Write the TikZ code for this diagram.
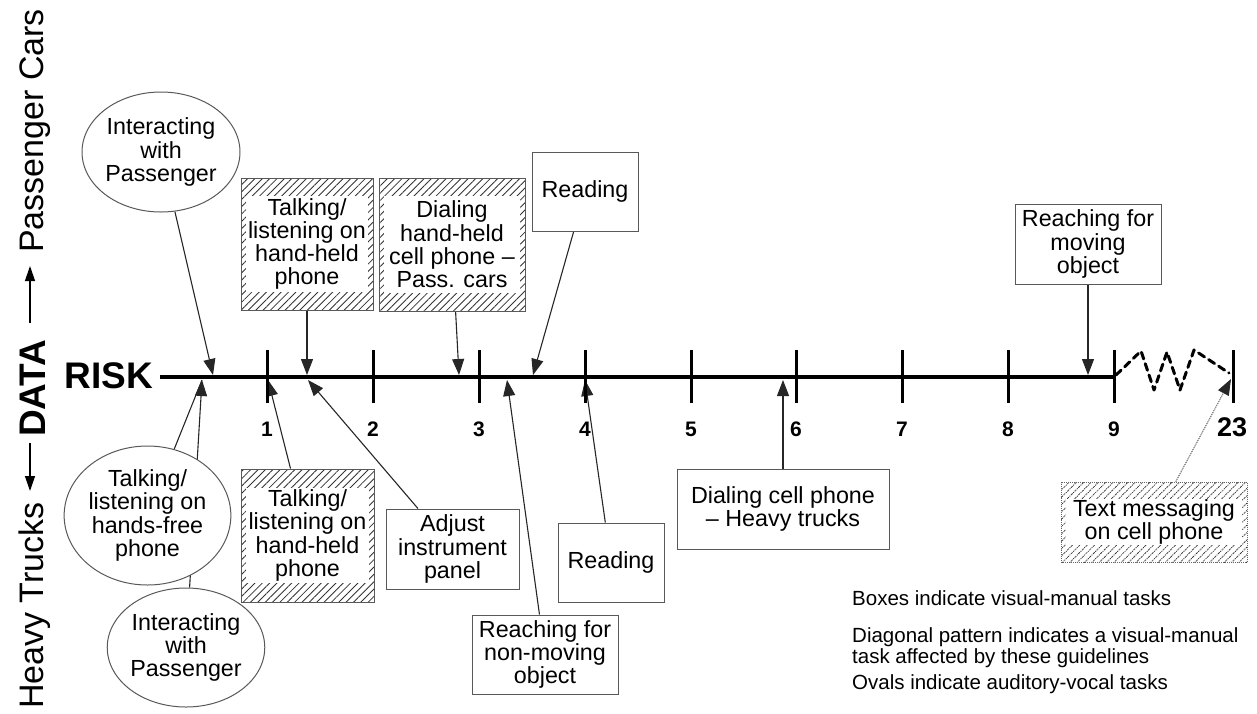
\documentclass[tikz,border=0pt]{standalone}
\usepackage{fontspec}
\setmainfont{Liberation Sans}
\usetikzlibrary{arrows.meta,patterns.meta,shapes.geometric}
\pgfdeclarelayer{bg}
\pgfsetlayers{bg,main}
\newcommand{\nodefont}{\fontsize{23.3}{23.3}\selectfont}
\newcommand{\legfont}{\fontsize{20.5}{21.5}\selectfont}
\begin{document}
\begin{tikzpicture}[x=1pt,y=-1pt,
  box/.style={draw=black!65, line width=1pt, fill=white, align=center, inner sep=0pt, font=\nodefont},
  hatched/.style={box, pattern={Lines[angle=45,distance=5.2pt,line width=0.85pt]}, pattern color=black!80,
    path picture={\fill[white] ([shift={(5pt,-#1)}]path picture bounding box.north west) rectangle ([shift={(-5pt,#1)}]path picture bounding box.south east);}},
  hatched/.default=18pt,
  oval/.style={ellipse, draw=black!65, line width=1pt, fill=white, align=center, inner sep=0pt, font=\nodefont},
  conn/.style={draw=black!85, line width=1.1pt, -{Triangle[length=16pt,width=12pt]}},
  plainconn/.style={draw=black!85, line width=1.1pt},
  axis/.style={line width=4pt},
  tickmark/.style={line width=3pt},
  num/.style={anchor=base, inner sep=0pt, font=\fontsize{21}{21}\bfseries\selectfont},
  vlab/.style={rotate=90, anchor=base west, inner sep=0pt, font=\fontsize{34}{34}\selectfont},
  varr/.style={line width=1.3pt, -{Triangle[length=15pt,width=10pt]}},
  legend/.style={anchor=base west, inner sep=0pt, font=\legfont},
  zig/.style={line width=3pt, dash pattern=on 7pt off 5pt, line cap=round, line join=round}
]
\useasboundingbox (0,0) rectangle (1257,713);

% side label
\node[vlab] (pc) at (43,253) {Passenger Cars};
\node[vlab, font=\fontsize{37}{37}\bfseries\selectfont] (data) at (45,437) {DATA};
\node[vlab] (ht) at (43,709) {Heavy Trucks};
\coordinate (upA) at (30,323);
\coordinate (upB) at (30,266);
\coordinate (dnA) at (30,443);
\coordinate (dnB) at (30,491);
\draw[varr] (upA) -- (upB);
\draw[varr] (dnA) -- (dnB);

% axis
\node[anchor=base east, inner sep=0pt, font=\fontsize{37}{37}\bfseries\selectfont] (risk) at (153,388) {RISK};
\coordinate (axL) at (160,377);
\coordinate (ax9) at (1114,377);
\draw[axis] (axL) -- (ax9);
\foreach \i/\x in {1/267,2/373,3/479,4/585,5/691,6/796,7/902,8/1008,9/1114}{
  \draw[tickmark] (\x,350) -- (\x,403);
  \node[num] (n\i) at (\x,436) {\i};
}
\draw[tickmark] (1233,350) -- (1233,403);
\node[num, font=\fontsize{27}{27}\bfseries\selectfont] (n23) at (1232,436) {23};
\draw[zig] (1116,375) -- (1141,351) -- (1154,390) -- (1167,352) -- (1180,390) -- (1194,350) -- (1229,373);

% tips
\coordinate (tPA) at (213,375);
\coordinate (tTA) at (307,375);
\coordinate (tDA) at (459,375);
\coordinate (tRA) at (533,375);
\coordinate (tMA) at (1088,375);
\coordinate (tHB) at (202,380);
\coordinate (tTB) at (268,380);
\coordinate (tAB) at (308,380);
\coordinate (tNB) at (507,380);
\coordinate (tRB) at (585,380);
\coordinate (tDB) at (783,380);
\coordinate (tXB) at (1231,379);

% top nodes
\node[oval, minimum width=158pt, minimum height=120pt] (ovPA) at (161,152) {Interacting\\with\\Passenger};
\node[hatched, minimum width=132pt, minimum height=132pt] (hbTA) at (307,244) {Talking/\\listening on\\hand-held\\phone};
\node[hatched, minimum width=146pt, minimum height=133pt] (hbDA) at (452,244.5) {Dialing\\hand-held\\cell phone \textendash\\Pass. cars};
\node[box, minimum width=106pt, minimum height=79pt] (bxRA) at (585,191.5) {Reading};
\node[box, minimum width=146pt, minimum height=80pt] (bxMA) at (1088,244) {Reaching for\\moving\\object};

% bottom nodes
\node[oval, minimum width=156pt, minimum height=119pt] (ovPB) at (186,647.5) {Interacting\\with\\Passenger};
\begin{pgfonlayer}{bg}
\draw[conn] (ovPB) -- (tHB);
\end{pgfonlayer}
\node[oval, minimum width=159pt, minimum height=139pt] (ovHB) at (147.5,515.5) {Talking/\\listening on\\hands-free\\phone};
\node[hatched=19pt, minimum width=133pt, minimum height=133pt] (hbTB) at (307.5,535.5) {Talking/\\listening on\\hand-held\\phone};
\node[box, minimum width=133pt, minimum height=80pt] (bxAB) at (452.5,549) {Adjust\\instrument\\panel};
\node[box, minimum width=146pt, minimum height=79pt] (bxNB) at (545,654.5) {Reaching for\\non-moving\\object};
\node[box, minimum width=106pt, minimum height=79pt] (bxRB) at (611,562.5) {Reading};
\node[box, minimum width=212pt, minimum height=80pt] (bxDB) at (783,509) {Dialing cell phone\\\textendash\ Heavy trucks};
\node[hatched=17pt, draw=black!60, densely dotted, line width=0.9pt, minimum width=186pt, minimum height=80pt] (hbXB) at (1154,522) {Text messaging\\on cell phone};

% connectors
\begin{pgfonlayer}{bg}
\draw[conn] (ovPA) -- (tPA);
\draw[conn] (hbTA) -- (tTA);
\draw[conn] (hbDA) -- (tDA);
\draw[conn] (bxRA) -- (tRA);
\draw[conn] (bxMA) -- (tMA);
\draw[plainconn] (ovHB) -- (tHB);
\draw[conn] (hbTB) -- (tTB);
\draw[conn] (bxAB) -- (tAB);
\draw[conn] (bxNB) -- (tNB);
\draw[conn] (bxRB) -- (tRB);
\draw[conn] (bxDB) -- (tDB);
\draw[conn, densely dotted, line width=0.8pt] (hbXB) -- (tXB);
\end{pgfonlayer}

% legend
\node[legend] (lg1) at (852,605) {Boxes indicate visual-manual tasks};
\node[legend] (lg2) at (852,642) {Diagonal pattern indicates a visual-manual};
\node[legend] (lg3) at (852,663) {task affected by these guidelines};
\node[legend] (lg4) at (852,689) {Ovals indicate auditory-vocal tasks};
\end{tikzpicture}
\end{document}
